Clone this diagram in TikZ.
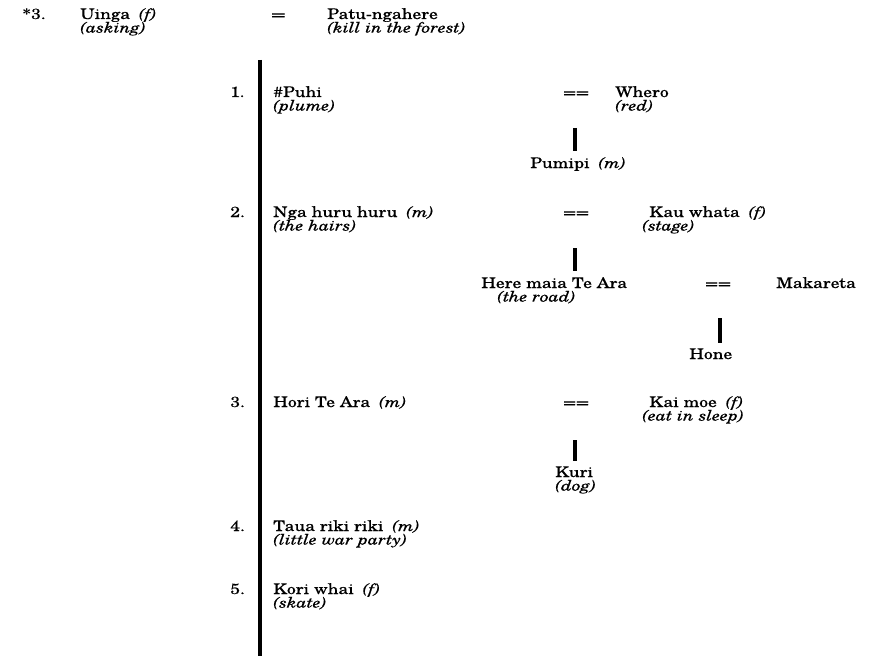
\documentclass[tikz,border=0pt]{standalone}
\usepackage{fontspec}
\usepackage{graphicx}
\setmainfont{texgyreschola}[Extension=.otf, UprightFont=*-regular, ItalicFont=*-italic, BoldFont=*-bold, FakeStretch=1.2, FakeBold=0.15]
\newcommand{\gp}{\hspace{0.6em}}
\newcommand{\two}[2]{\vtop{\baselineskip=10.2pt\lineskiplimit=-100pt\lineskip=0pt\hbox{#1}\hbox{#2}}}
\newcommand{\eqone}{\scalebox{1.35}[1]{=}}
\newcommand{\eqtwo}{\scalebox{1.2}[1]{==}}
\begin{document}
\begin{tikzpicture}[x=0.75pt,y=-0.75pt,
  t/.style={anchor=base west, inner sep=0pt, font=\fontsize{11}{10.2}\selectfont},
  bar/.style={line width=2.3pt}]
\useasboundingbox (0,0) rectangle (877,656);
% header
\node[t] (n3) at (22,19) {*3.};
\node[t] (uinga) at (80,19) {\two{Uinga\gp\textit{(f)}}{\textit{(asking)}}};
\node[t] (eq0) at (271,19) {\eqone};
\node[t] (patu) at (327,19) {\two{Patu-ngahere}{\textit{(kill in the forest)}}};
% main bar
\coordinate (mtop) at (260,60);
\coordinate (mbot) at (260,656);
\draw[bar] (mtop) -- (mbot);
% row 1
\node[t] (r1) at (230,97) {1.};
\node[t] (puhi) at (273,97) {\two{\#Puhi}{\textit{(plume)}}};
\node[t] (e1) at (563,97) {\eqtwo};
\node[t] (whero) at (615,97) {\two{Whero}{\textit{(red)}}};
\node[t] (pumipi) at (530,168) {Pumipi\gp\textit{(m)}};
\coordinate (b1a) at (575,128);
\coordinate (b1b) at (575,151);
\draw[bar] (b1a) -- (b1b);
% row 2
\node[t] (r2) at (230,217) {2.};
\node[t] (nga) at (273,217) {\two{Nga huru huru\gp\textit{(m)}}{\textit{(the hairs)}}};
\node[t] (e2) at (563,217) {\eqtwo};
\node[t] (kau) at (642,217) {\two{\kern5.25pt Kau whata\gp\textit{(f)}}{\textit{(stage)}}};
\coordinate (b2a) at (575,248);
\coordinate (b2b) at (575,271);
\draw[bar] (b2a) -- (b2b);
\node[t] (here) at (481,288) {\two{Here maia Te Ara}{\kern12pt\textit{(the road)}}};
\node[t] (e3) at (705,288) {\eqtwo};
\node[t] (maka) at (776,288) {Makareta};
\coordinate (b3a) at (720,318);
\coordinate (b3b) at (720,343);
\draw[bar] (b3a) -- (b3b);
\node[t] (hone) at (689,359) {Hone};
% row 3
\node[t] (r3) at (230,407) {3.};
\node[t] (hori) at (273,407) {Hori Te Ara\gp\textit{(m)}};
\node[t] (e4) at (563,407) {\eqtwo};
\node[t] (kai) at (642,407) {\two{\kern5.25pt Kai moe\gp\textit{(f)}}{\textit{(eat in sleep)}}};
\coordinate (b4a) at (575,440);
\coordinate (b4b) at (575,461);
\draw[bar] (b4a) -- (b4b);
\node[t] (kuri) at (555,477) {\two{Kuri}{\textit{(dog)}}};
% row 4
\node[t] (r4) at (230,531) {4.};
\node[t] (taua) at (273,531) {\two{Taua riki riki\gp\textit{(m)}}{\textit{(little war party)}}};
% row 5
\node[t] (r5) at (230,594) {5.};
\node[t] (kori) at (273,594) {\two{Kori whai\gp\textit{(f)}}{\textit{(skate)}}};
\end{tikzpicture}
\end{document}
